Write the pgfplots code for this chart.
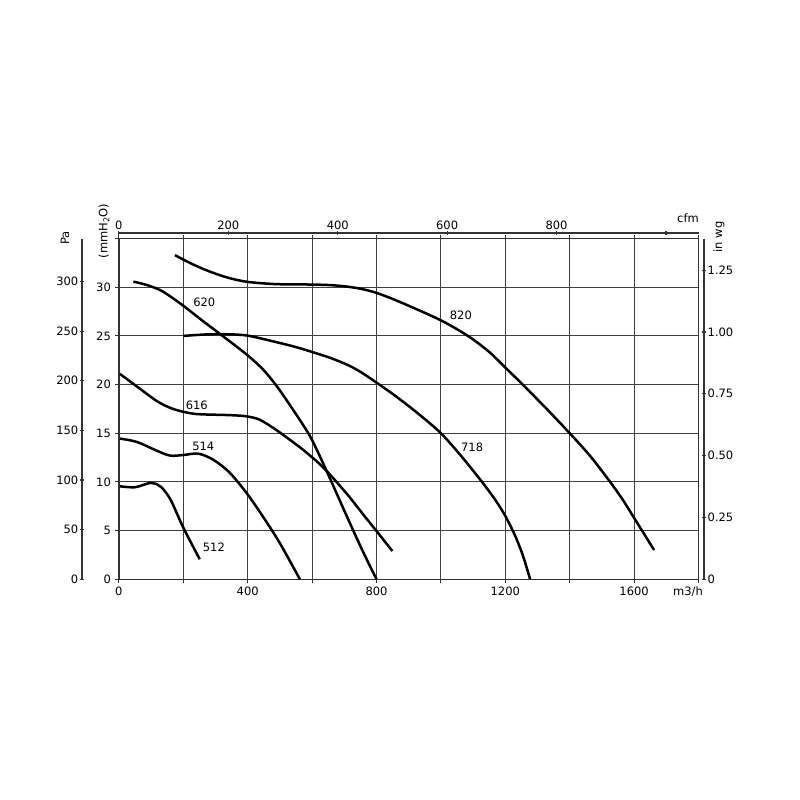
\documentclass[border=0pt]{standalone}
\usepackage{fontspec}
\setmainfont{DejaVu Sans}
\usepackage{pgfplots}
\pgfplotsset{compat=1.18}
\pgfplotsset{base/.style={scale only axis, width=579.6pt, height=340.6pt, anchor=south west,
  /pgf/number format/assume math mode=true,
  tick style={black!80, line width=1.1pt},
  axis line style={black!80, line width=1.3pt},
  tick align=outside, major tick length=4pt,
  every tick label/.append style={font=\fontsize{11.5}{13}\selectfont}},
  noarrow/.style={every outer x axis line/.append style={-}, every outer y axis line/.append style={-},
  every inner x axis line/.append style={-}, every inner y axis line/.append style={-},
  x axis line style={-}, y axis line style={-}},
  curve/.style={black, line width=2.5pt, smooth, tension=0.5}}
\begin{document}
\begin{tikzpicture}[x=1pt,y=1pt]
\fontsize{11.5}{13}\selectfont
\path[use as bounding box] (-118.9pt,-220.8pt) rectangle (681.1pt,579.2pt);
% Pa axis
\begin{axis}[base, at={(-36.9pt,0pt)}, width=1pt, xmin=0, xmax=1, axis x line=none, axis y line=left, noarrow,
  ymin=0, ymax=343.23, ytick={0,50,...,300}, major tick length=5pt,
  yticklabel style={inner sep=1pt}]
\end{axis}
% in wg axis
\begin{axis}[base, at={(584.1pt,0pt)}, width=1pt, xmin=0, xmax=1, axis x line=none, axis y line=right, noarrow,
  ymin=0, ymax=1.3779, ytick={0,0.25,0.5,0.75,1,1.25},
  yticklabels={0,0.25,0.50,0.75,1.00,1.25}, yticklabel style={inner sep=1.5pt}]
\end{axis}
% cfm axis
\begin{axis}[base, at={(0pt,5.6pt)}, ymin=0, ymax=1, axis y line=none, axis x line=top, noarrow,
  xmin=0, xmax=1059.45, xtick={0,200,...,1000}, xticklabels={0,200,400,600,800,},
  xticklabel style={inner sep=1.5pt}]
\end{axis}
% main axis
\begin{axis}[base, at={(0pt,0pt)}, xmin=0, xmax=1800, ymin=0, ymax=35,
  xtick={0,200,...,1800}, xticklabels={0,,400,,800,,1200,,1600,},
  ytick={0,5,...,35}, yticklabels={0,5,10,15,20,25,30,},
  xtick pos=both, xticklabel pos=lower, ytick pos=left,
  grid=major, grid style={black!75, line width=1.1pt},
  clip=false]
% 820
\addplot[curve] coordinates {(174,33.3) (230,32.35) (283,31.6) (340,30.97) (400,30.55) (490,30.32) (594,30.28) (650,30.23) (700,30.1) (750,29.85) (800,29.42) (872,28.5) (1000,26.6) (1087,24.93) (1150,23.35) (1200,21.75) (1254,20.0) (1330,17.45) (1400,15.0) (1460,12.8) (1512,10.6) (1560,8.4) (1600,6.3) (1662,3.0)};
% 718
\addplot[curve] coordinates {(200,25.0) (270,25.15) (335,25.17) (400,25.03) (490,24.35) (550,23.85) (600,23.35) (660,22.7) (718,21.9) (760,21.1) (800,20.2) (860,18.8) (930,17.0) (1000,15.0) (1067,12.5) (1130,9.9) (1170,8.1) (1200,6.5) (1230,4.5) (1255,2.4) (1277,0)};
% 620
\addplot[curve] coordinates {(45,30.58) (85,30.25) (127,29.73) (160,29.05) (200,28.1) (262,26.5) (324,24.95) (400,23.0) (449,21.5) (490,19.85) (532,17.85) (573,15.8) (600,14.3) (644,11.2) (706,6.6) (757,2.9) (800,0)};
% 616
\addplot[curve] coordinates {(3,21.1) (56,19.8) (118,18.3) (160,17.6) (200,17.2) (241,16.97) (300,16.9) (344,16.86) (386,16.78) (415,16.62) (438,16.38) (470,15.75) (500,15.07) (570,13.35) (634,11.5) (706,8.85) (760,6.6) (800,4.95) (849,2.9)};
% 514
\addplot[curve] coordinates {(3,14.45) (56,14.1) (118,13.2) (159,12.7) (200,12.76) (246,12.9) (292,12.3) (344,10.95) (400,8.7) (450,6.3) (500,3.7) (562,0)};
% 512
\addplot[curve] coordinates {(3,9.55) (50,9.45) (100,9.9) (130,9.5) (160,8.2) (200,5.3) (251,2.05)};
\node at (axis cs:265,28.5) {620};
\node at (axis cs:242,17.9) {616};
\node at (axis cs:262,13.64) {514};
\node at (axis cs:295,3.3) {512};
\node at (axis cs:1062,27.1) {820};
\node at (axis cs:1097,13.6) {718};
\end{axis}
\node[rotate=90] at (-53.9pt,341.2pt) {Pa};
\node[rotate=90] at (-14.9pt,348.2pt) {(mmH\textsubscript{2}O)};
\node[rotate=90] at (600.1pt,342.2pt) {in wg};
\node at (569.1pt,361.2pt) {cfm};
\node at (569.1pt,-12.8pt) {m3/h};
\end{tikzpicture}
\end{document}
